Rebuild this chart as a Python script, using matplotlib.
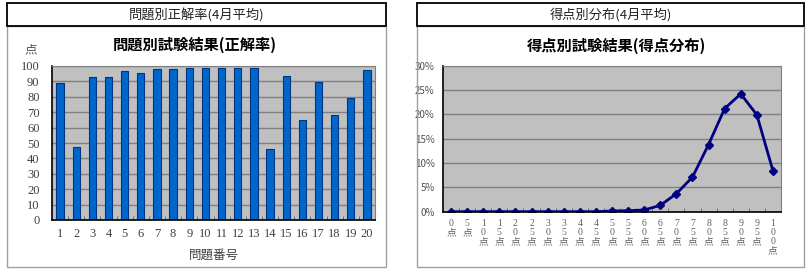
import matplotlib.pyplot as plt
from matplotlib.patches import Rectangle
from matplotlib.ticker import FixedLocator, PercentFormatter

# data
questions = [1, 2, 3, 4, 5, 6, 7, 8, 9, 10, 11, 12, 13, 14, 15, 16, 17, 18, 19, 20]
correct_rate = [88.7, 47.2, 93.1, 93.1, 96.5, 95.3, 97.8, 97.8, 99.0, 98.4,
                99.0, 98.4, 98.4, 46.4, 93.7, 64.8, 89.5, 68.5, 79.4, 97.3]

scores = [0, 5, 10, 15, 20, 25, 30, 35, 40, 45, 50, 55, 60, 65, 70, 75, 80, 85, 90, 95, 100]
score_share = [0.0, 0.0, 0.0, 0.0, 0.0, 0.0, 0.0, 0.0, 0.0, 0.0, 0.15, 0.2, 0.35,
               1.3, 3.7, 7.1, 13.8, 21.2, 24.2, 19.9, 8.4]

W, H = 806, 270
CJK = ['Noto Sans CJK JP', 'DejaVu Sans']
SERIF = ['Liberation Serif', 'Noto Sans CJK JP']
plt.rcParams['font.family'] = CJK

fig = plt.figure(figsize=(W / 100, H / 100), dpi=100)


def px(x0, y0, x1, y1):
    # pixel box -> figure fraction rect
    return [x0 / W, 1 - y1 / H, (x1 - x0) / W, (y1 - y0) / H]


def panel_frame(x0, x1, header):
    fig.add_artist(Rectangle((x0 / W, 1 - 267 / H), (x1 - x0) / W, (267 - 26) / H,
                             transform=fig.transFigure, fill=False, ec='#a0a0a0', lw=1))
    fig.add_artist(Rectangle((x0 / W, 1 - 26 / H), (x1 - x0) / W, 23 / H,
                             transform=fig.transFigure, fill=False, ec='black', lw=1.3))
    fig.text((x0 + x1) / 2 / W, 1 - 15 / H, header, ha='center', va='center',
             fontsize=9.5, color='#222222')


def style_axes(ax):
    ax.set_facecolor('#c0c0c0')
    ax.grid(axis='y', color='#808080', lw=1)
    ax.set_axisbelow(True)
    for s in ['top', 'right']:
        ax.spines[s].set_color('#808080')
    for s in ['left', 'bottom']:
        ax.spines[s].set_color('black')
        ax.spines[s].set_linewidth(1.2)


# ------------------------------------------------
# left: correct rate per question
panel_frame(7, 386, '問題別正解率(4月平均)')
ax1 = fig.add_axes(px(52, 66, 375, 220))
style_axes(ax1)
ax1.bar(range(len(questions)), correct_rate, width=0.45, color='#0066cc',
        edgecolor='#003380', lw=0.8)
ax1.set_xlim(-0.5, len(questions) - 0.5)
ax1.set_ylim(0, 100)
ax1.set_yticks(range(0, 101, 10))
ax1.set_xticks(range(len(questions)))
ax1.set_xticklabels([str(q) for q in questions])
ax1.xaxis.set_minor_locator(FixedLocator([i + 0.5 for i in range(len(questions) - 1)]))
ax1.tick_params(axis='x', which='major', length=0, pad=6)
ax1.tick_params(axis='x', which='minor', direction='in', length=3, color='#606060')
ax1.tick_params(axis='y', length=0, pad=9)
for lbl in ax1.get_xticklabels() + ax1.get_yticklabels():
    lbl.set_family(SERIF)
    lbl.set_fontsize(9)
    lbl.set_color('#404040')
ax1.set_xlabel('問題番号', fontsize=9, color='#404040', labelpad=6)
fig.text(195 / W, 1 - 45 / H, '問題別試験結果(正解率)', ha='center', va='center',
         fontsize=11, fontweight='bold')
fig.text(31 / W, 1 - 50 / H, '点', ha='center', va='center', fontsize=9, color='#505050')

# ------------------------------------------------
# right: score distribution
panel_frame(417, 804, '得点別分布(4月平均)')
ax2 = fig.add_axes(px(443, 65.7, 781, 211.7))
style_axes(ax2)
ax2.plot(range(len(scores)), score_share, color='#000080', lw=2,
         marker='D', ms=4.5, mfc='#000080', mec='#000080')
ax2.set_xlim(-0.5, len(scores) - 0.5)
ax2.set_ylim(0, 30)
ax2.set_yticks(range(0, 31, 5))
ax2.yaxis.set_major_formatter(PercentFormatter(decimals=0))
ax2.set_xticks(range(len(scores)))
ax2.set_xticklabels(['\n'.join(list(str(s)) + ['点']) for s in scores], va='top')
ax2.xaxis.set_minor_locator(FixedLocator([i + 0.5 for i in range(len(scores) - 1)]))
ax2.tick_params(axis='x', which='major', length=0, pad=5)
ax2.tick_params(axis='x', which='minor', direction='in', length=3, color='#606060')
ax2.tick_params(axis='y', length=0, pad=6)
for lbl in ax2.get_xticklabels():
    lbl.set_family(SERIF)
    lbl.set_fontsize(7)
    lbl.set_color('#606060')
    lbl.set_linespacing(1.05)
for lbl in ax2.get_yticklabels():
    lbl.set_fontsize(7)
    lbl.set_color('#505050')
fig.text(616 / W, 1 - 46 / H, '得点別試験結果(得点分布)', ha='center', va='center',
         fontsize=11, fontweight='bold')

fig.savefig('out.png', dpi=100)
